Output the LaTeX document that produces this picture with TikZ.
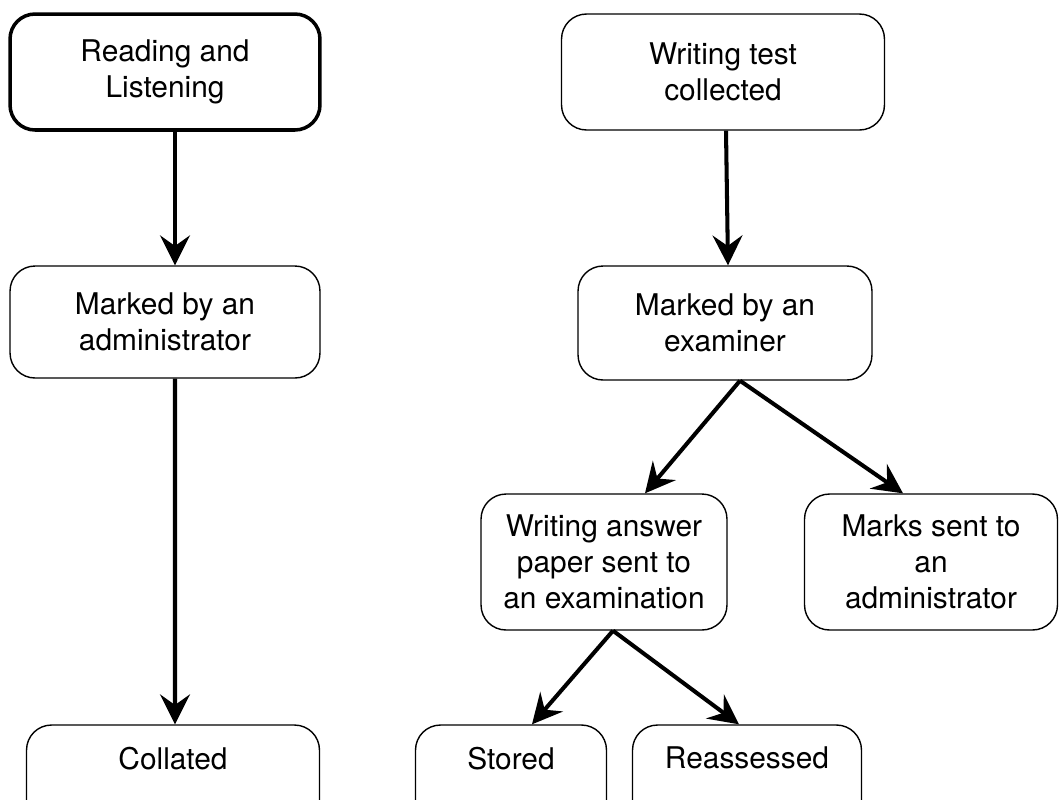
\documentclass[tikz,border=0pt]{standalone}
\usepackage{fontspec}
\setmainfont{TeX Gyre Heros}
\usetikzlibrary{arrows.meta}

\begin{document}
\begin{tikzpicture}[x=0.02cm,y=-0.02cm]
\tikzstyle{every node}=[font=\fontsize{17}{20.6}\selectfont, align=center, inner sep=0pt]
\tikzstyle{box}=[draw, rounded corners=0.5cm, line width=0.8pt]
\tikzstyle{cutbox}=[box, minimum height=2.2cm, text depth=25pt]
\tikzstyle{flow}=[line width=2.3pt, -{Stealth[length=17pt,width=17pt,inset=6pt]}]
\useasboundingbox (0,0) rectangle (1061,799);
\clip (0,0) rectangle (1061,799);

% left column
\node[box, line width=2pt, minimum width=6.2cm, minimum height=2.32cm] (rl) at (165,72) {Reading and\\Listening};
\node[box, minimum width=6.2cm, minimum height=2.24cm] (ma) at (165,322) {Marked by an\\administrator};
\node[cutbox, minimum width=5.86cm] (co) at (173,780) {Collated};

% right column
\node[box, minimum width=6.46cm, minimum height=2.32cm] (wt) at (723,72) {Writing test\\collected};
\node[box, minimum width=5.88cm, minimum height=2.28cm] (me) at (725,323) {Marked by an\\examiner};
\node[box, minimum width=4.92cm, minimum height=2.72cm] (wa) at (604,562) {Writing answer\\paper sent to\\an examination};
\node[box, minimum width=5.06cm, minimum height=2.72cm] (ms) at (931,562) {Marks sent to\\an\\administrator};
\node[cutbox, minimum width=3.82cm] (st) at (511,780) {Stored};
\node[cutbox, minimum width=4.58cm] (ra) at (747,780) {Reassessed};

\draw[flow] ([xshift=0.2cm]rl.south) -- ([xshift=0.2cm]ma.north);
\draw[flow] ([xshift=0.2cm]ma.south) -- ([xshift=0.04cm]co.north);
\draw[flow] ([xshift=0.06cm]wt.south) -- ([xshift=0.06cm]me.north);
\draw[flow] ([xshift=0.3cm]me.south) -- ([xshift=0.82cm]wa.north);
\draw[flow] ([xshift=0.3cm]me.south) -- ([xshift=-0.56cm]ms.north);
\draw[flow] ([xshift=0.18cm]wa.south) -- ([xshift=0.42cm]st.north);
\draw[flow] ([xshift=0.18cm]wa.south) -- ([xshift=-0.16cm]ra.north);
\end{tikzpicture}
\end{document}
